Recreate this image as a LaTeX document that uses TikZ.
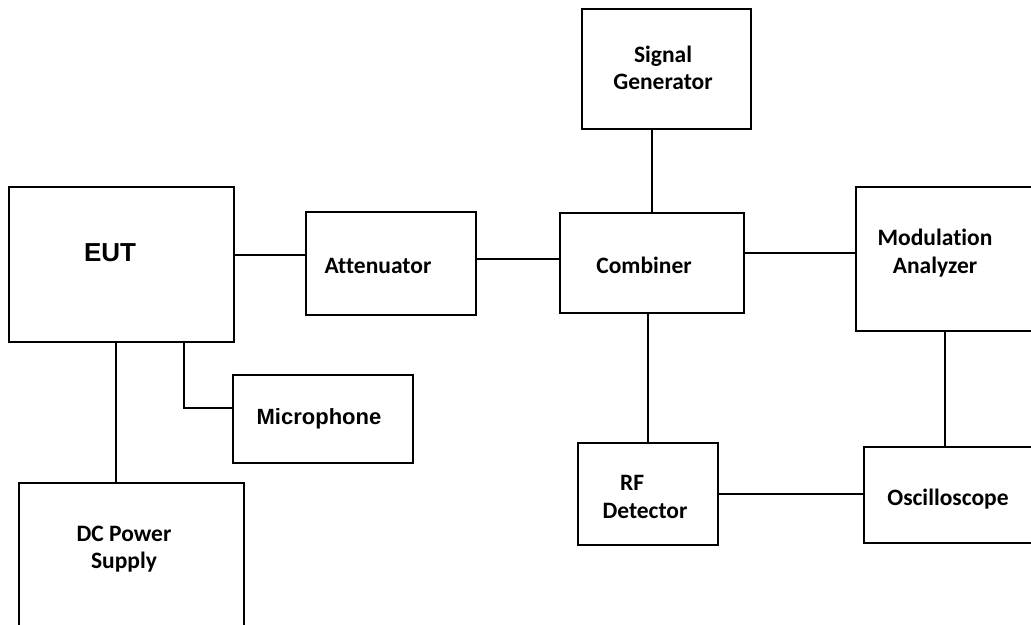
\documentclass[tikz,border=0pt]{standalone}
\usepackage{fontspec}
\setmainfont{Carlito}[Ligatures=NoCommon]
\newfontfamily\arialbf{Liberation Sans}[BoldFont={Liberation Sans Bold}]
\usetikzlibrary{calc}

\begin{document}
\begin{tikzpicture}[x=1pt,y=-1pt,line width=2pt,
  box/.style={draw,rectangle,inner sep=0pt,outer sep=0pt},
  lbl/.style={align=center,inner sep=0pt,font=\fontsize{23.5}{27.6}\selectfont\bfseries}]
  \useasboundingbox(0,0)rectangle(1031,624);
  \clip(0,0)rectangle(1031,624);
  % blocks
  \node[box,minimum width=225,minimum height=155](eut) at (121.5,264.5){};
  \node[box,minimum width=170,minimum height=103](att) at (391,263.5){};
  \node[box,minimum width=169,minimum height=120](sig) at (666.5,69){};
  \node[box,minimum width=184,minimum height=100](comb) at (652,263){};
  \node[box,minimum width=178,minimum height=144](mod) at (945,259){};
  \node[box,minimum width=172,minimum height=96](osc) at (950,495){};
  \node[box,minimum width=140,minimum height=102](rf) at (648,494){};
  \node[box,minimum width=180,minimum height=88](mic) at (323,419){};
  \node[box,minimum width=225,minimum height=157](dc) at (131.5,561.5){};
  % labels
  \node[lbl,font=\arialbf\fontsize{26}{30}\selectfont\bfseries](eut-t) at (110,253){EUT};
  \node[lbl](att-t) at (378,266){Attenuator};
  \node[lbl](sig-t) at (663,68){Signal\\Generator};
  \node[lbl](comb-t) at (644,265){Combiner};
  \node[lbl](mod-t) at (935,253){Modulation\\Analyzer};
  \node[lbl](osc-t) at (948,499){Oscilloscope};
  \node[lbl](rf-t) at (645,497){RF\hspace*{1.1em}\\Detector};
  \node[lbl,font=\arialbf\fontsize{22}{26}\selectfont\bfseries](mic-t) at (319,419){Microphone};
  \node[lbl](dc-t) at (124,549){DC Power\\Supply};
  % connections
  \draw([yshift=9.5pt]eut.east)--([yshift=9.5pt]eut.east-|att.west);
  \draw([yshift=4.5pt]att.east)--([yshift=4.5pt]att.east-|comb.west);
  \draw(sig.south-|comb.north)--(comb.north);
  \draw([yshift=10pt]comb.east)--([yshift=10pt]comb.east-|mod.west);
  \draw(comb.south-|rf.north)--(rf.north);
  \draw(mod.south)--(mod.south|-osc.north);
  \draw(rf.east)--(rf.east-|osc.west);
  \draw([xshift=-5.5pt]eut.south)--([xshift=-5.5pt]eut.south|-dc.north);
  \draw([xshift=62.5pt]eut.south)|-([yshift=11pt]mic.west);
\end{tikzpicture}
\end{document}
